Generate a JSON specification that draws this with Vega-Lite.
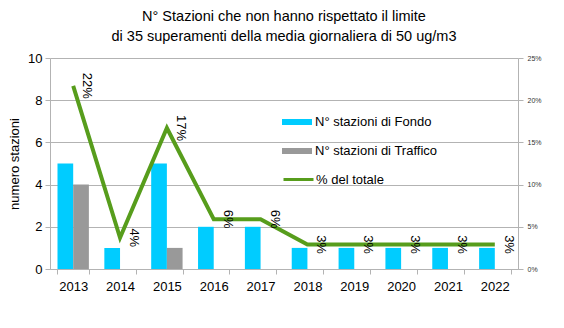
{
  "$schema": "https://vega.github.io/schema/vega-lite/v6.json",
  "width": 468,
  "height": 211,
  "autosize": "none",
  "padding": {"left": 50, "top": 58, "right": 46, "bottom": 59},
  "background": "white",
  "config": {
    "font": "Liberation Sans",
    "view": {"stroke": null},
    "axis": {"domainColor": "#b3b3b3", "tickColor": "#b3b3b3", "gridColor": "#b3b3b3", "labelColor": "#000000", "titleColor": "#000000", "labelFont": "Liberation Sans", "titleFont": "Liberation Sans", "titleFontWeight": "normal"},
    "legend": {"labelFont": "Liberation Sans", "labelColor": "#000000", "labelFontSize": 13, "padding": 0}
  },
  "title": {
    "text": ["N° Stazioni che non hanno rispettato il limite", "di 35 superamenti della media giornaliera di 50 ug/m3"],
    "fontSize": 14.5,
    "fontWeight": "normal",
    "color": "#000000",
    "font": "Liberation Sans",
    "anchor": "middle",
    "offset": 8,
    "lineHeight": 20
  },
  "data": {
    "values": [
      {"anno": "2013", "Fondo": 5, "Traffico": 4, "pct": 0.217},
      {"anno": "2014", "Fondo": 1, "Traffico": 0, "pct": 0.037},
      {"anno": "2015", "Fondo": 5, "Traffico": 1, "pct": 0.167},
      {"anno": "2016", "Fondo": 2, "Traffico": 0, "pct": 0.059},
      {"anno": "2017", "Fondo": 2, "Traffico": 0, "pct": 0.059},
      {"anno": "2018", "Fondo": 1, "Traffico": 0, "pct": 0.029},
      {"anno": "2019", "Fondo": 1, "Traffico": 0, "pct": 0.029},
      {"anno": "2020", "Fondo": 1, "Traffico": 0, "pct": 0.029},
      {"anno": "2021", "Fondo": 1, "Traffico": 0, "pct": 0.029},
      {"anno": "2022", "Fondo": 1, "Traffico": 0, "pct": 0.029}
    ]
  },
  "encoding": {
    "x": {
      "field": "anno", "type": "nominal",
      "scale": {"paddingInner": 0.33, "paddingOuter": 0.16},
      "axis": {"title": null, "labelAngle": 0, "labelFontSize": 13, "tickBand": "extent", "tickSize": 5, "labelPadding": 6, "grid": false}
    }
  },
  "layer": [
    {
      "transform": [{"fold": ["Fondo", "Traffico"], "as": ["serie", "n"]}],
      "mark": {"type": "bar"},
      "encoding": {
        "xOffset": {"field": "serie", "type": "nominal", "scale": {"domain": ["Fondo", "Traffico"], "paddingInner": 0}},
        "y": {
          "field": "n", "type": "quantitative",
          "scale": {"domain": [0, 10], "nice": false},
          "axis": {"title": "numero stazioni", "titleFontSize": 13, "labelFontSize": 13, "values": [0, 2, 4, 6, 8, 10], "labelOverlap": false, "tickSize": 5, "labelPadding": 3, "titlePadding": 6, "grid": true}
        },
        "color": {
          "field": "serie", "type": "nominal",
          "scale": {"domain": ["Fondo", "Traffico"], "range": ["#00ccff", "#999999"]},
          "legend": {
            "title": null, "orient": "none", "legendX": 232, "legendY": 49,
            "symbolType": "M-1,-0.2H1V0.2H-1Z", "symbolSize": 900, "symbolStrokeWidth": 0,
            "rowPadding": 7, "labelOffset": 3,
            "labelExpr": "'N° stazioni di ' + datum.label"
          }
        }
      }
    },
    {
      "mark": {"type": "line", "strokeWidth": 4},
      "encoding": {
        "y": {
          "field": "pct", "type": "quantitative",
          "scale": {"domain": [0, 0.25], "nice": false},
          "axis": {"orient": "right", "title": null, "format": ".0%", "values": [0, 0.05, 0.1, 0.15, 0.2, 0.25], "labelOverlap": false, "labelFontSize": 7, "labelColor": "#333333", "tickSize": 5, "labelPadding": 4, "grid": false}
        },
        "stroke": {
          "datum": "% del totale",
          "scale": {"range": ["#579d1c"]},
          "legend": {
            "title": null, "orient": "none", "legendX": 232, "legendY": 105,
            "symbolType": "stroke", "symbolSize": 900, "symbolStrokeWidth": 3, "labelOffset": 1
          }
        }
      }
    },
    {
      "mark": {"type": "text", "angle": 90, "align": "center", "baseline": "middle", "dy": -14, "fontSize": 13, "font": "Liberation Sans", "color": "#000000"},
      "encoding": {
        "y": {"field": "pct", "type": "quantitative", "scale": {"domain": [0, 0.25], "nice": false}, "axis": null},
        "text": {"field": "pct", "type": "quantitative", "format": ".0%"}
      }
    }
  ],
  "resolve": {"scale": {"y": "independent"}, "axis": {"y": "independent"}}
}
